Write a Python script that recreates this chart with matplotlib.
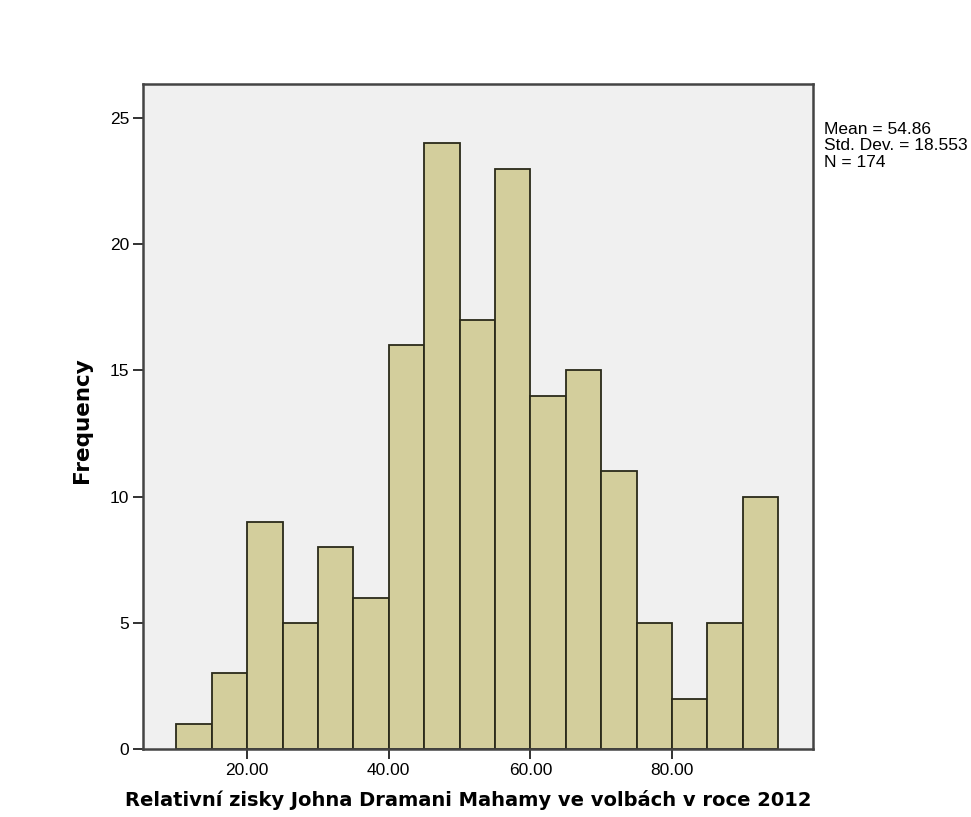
import matplotlib
matplotlib.use("Agg")
import matplotlib.pyplot as plt
import numpy as np

bin_edges = [10, 15, 20, 25, 30, 35, 40, 45, 50, 55, 60, 65, 70, 75, 80, 85, 90, 95]
counts = [1, 3, 9, 5, 8, 6, 16, 24, 17, 23, 14, 15, 11, 5, 2, 5, 10]
xticks = [20, 40, 60, 80]
xtick_labels = ["20.00", "40.00", "60.00", "80.00"]
yticks = [0, 5, 10, 15, 20, 25]
stats_text = "Mean = 54.86\nStd. Dev. = 18.553\nN = 174"
xlabel = "Relativní zisky Johna Dramani Mahamy ve volbách v roce 2012"
ylabel = "Frequency"

fig = plt.figure(figsize=(9.71, 8.17), dpi=100)
ax = fig.add_axes([143/971, 1-749/817, (813-143)/971, (749-84)/817])
ax.set_facecolor("#f0f0f0")

lefts = np.array(bin_edges[:-1])
widths = np.diff(bin_edges)
ax.bar(lefts, counts, width=widths, align="edge", color="#d3ce9c",
       edgecolor="#2a2a1a", linewidth=1.3)

ax.set_xlim(5.3, 99.9)
ax.set_ylim(0, 26.35)
ax.set_xticks(xticks)
ax.set_xticklabels(xtick_labels, fontfamily="Liberation Sans", fontsize=12.5)
ax.set_yticks(yticks)
ax.set_yticklabels([str(t) for t in yticks], fontfamily="Liberation Sans", fontsize=12.5)
ax.tick_params(axis="both", direction="out", length=7, width=1.3, color="#222222", pad=3)
for s in ax.spines.values():
    s.set_color("#444444")
    s.set_linewidth(1.8)

ax.set_xlabel(xlabel, fontsize=14, fontweight="bold", fontfamily="DejaVu Sans")
ax.set_ylabel(ylabel, fontsize=15.5, fontweight="bold", fontfamily="DejaVu Sans")
ax.xaxis.set_label_coords((468-143)/670, -(800-749)/665, transform=ax.transAxes)
ax.yaxis.set_label_coords(-(143-82)/670, (749-420)/665, transform=ax.transAxes)
ax.xaxis.label.set_va("center")
ax.yaxis.label.set_va("center")

fig.text(824/971, 1-122/817, stats_text, fontfamily="Liberation Sans", fontsize=12.5,
         va="top", ha="left", linespacing=1.12)

fig.savefig("out.png", dpi=100, facecolor="white")
